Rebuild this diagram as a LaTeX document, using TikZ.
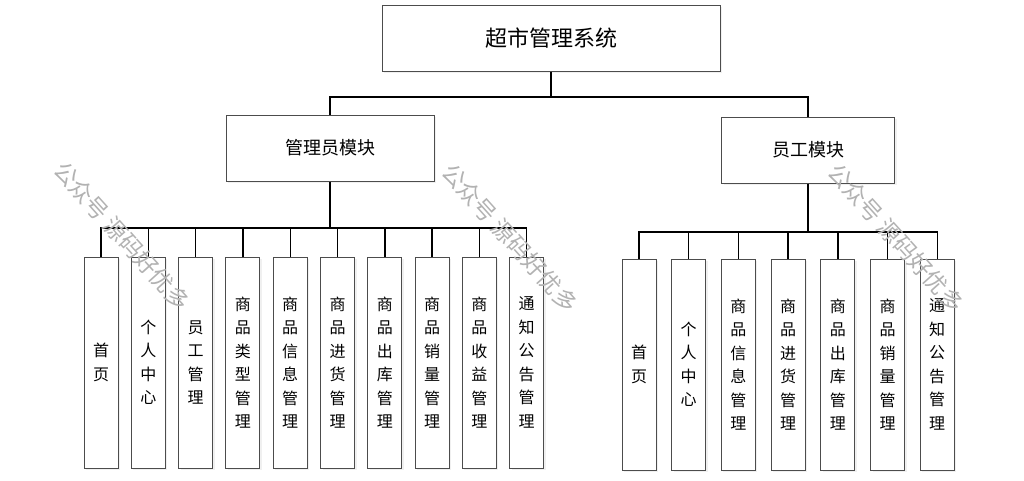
\documentclass[tikz,border=0pt]{standalone}
\usepackage{fontspec}
\setmainfont{Noto Sans CJK SC}
\usetikzlibrary{shadows}

\tikzset{
  boxbase/.style={draw=black!70, fill=white, line width=1pt,
    drop shadow={shadow xshift=2pt, shadow yshift=-2pt, opacity=0.12}},
  sysbox/.style={boxbase, minimum width=338pt, minimum height=66pt,
    font=\fontsize{22}{25}\selectfont},
  modbox/.style={boxbase, minimum width=208pt, minimum height=66pt,
    font=\fontsize{18}{21}\selectfont},
  leafbox/.style={boxbase, minimum width=34pt, minimum height=211pt,
    inner sep=0pt, align=center, font=\fontsize{16}{23.5}\selectfont},
  link/.style={line width=1.4pt, black},
  wmark/.style={text=black!30, font=\fontsize{23}{26}\selectfont}
}

\begin{document}
\begin{tikzpicture}[x=1pt,y=-1pt]
  \useasboundingbox (0,0) rectangle (1024,480);

  % top and modules
  \node[sysbox] (sys) at (551,38) {超市管理系统};
  \node[modbox] (adm) at (330,148) {管理员模块};
  \node[modbox, minimum width=173pt] (emp) at (808,150) {员工模块};

  \coordinate (bus0) at (551,97);
  \coordinate (bus1) at (330,228);
  \coordinate (bus2) at (808,232);

  \draw[link] (sys.south) -- (bus0);
  \draw[link] (adm.north) |- (bus0) -| (emp.north);
  \draw[link] (adm.south) -- (bus1);
  \draw[link] (emp.south) -- (bus2);

  % admin leaves
  \foreach \t [count=\i] in {{首\\页}, {个\\人\\中\\心}, {员\\工\\管\\理},
      {商\\品\\类\\型\\管\\理}, {商\\品\\信\\息\\管\\理}, {商\\品\\进\\货\\管\\理},
      {商\\品\\出\\库\\管\\理}, {商\\品\\销\\量\\管\\理}, {商\\品\\收\\益\\管\\理},
      {通\\知\\公\\告\\管\\理}}{
    \node[leafbox] (a\i) at ({101+(\i-1)*47.3},362.5) {\t};
    \draw[link] (a\i.north) |- (bus1);
  }

  % employee leaves
  \foreach \t [count=\i] in {{首\\页}, {个\\人\\中\\心}, {商\\品\\信\\息\\管\\理},
      {商\\品\\进\\货\\管\\理}, {商\\品\\出\\库\\管\\理}, {商\\品\\销\\量\\管\\理},
      {通\\知\\公\\告\\管\\理}}{
    \node[leafbox] (e\i) at ({639+(\i-1)*49.7},364.5) {\t};
    \draw[link] (e\i.north) |- (bus2);
  }

  % watermark
  \node[wmark, rotate=-48] (w1) at (122,236) {公众号 源码好优多};
  \node[wmark, rotate=-48] (w2) at (510,238) {公众号 源码好优多};
  \node[wmark, rotate=-48] (w3) at (896,238) {公众号 源码好优多};
\end{tikzpicture}
\end{document}
